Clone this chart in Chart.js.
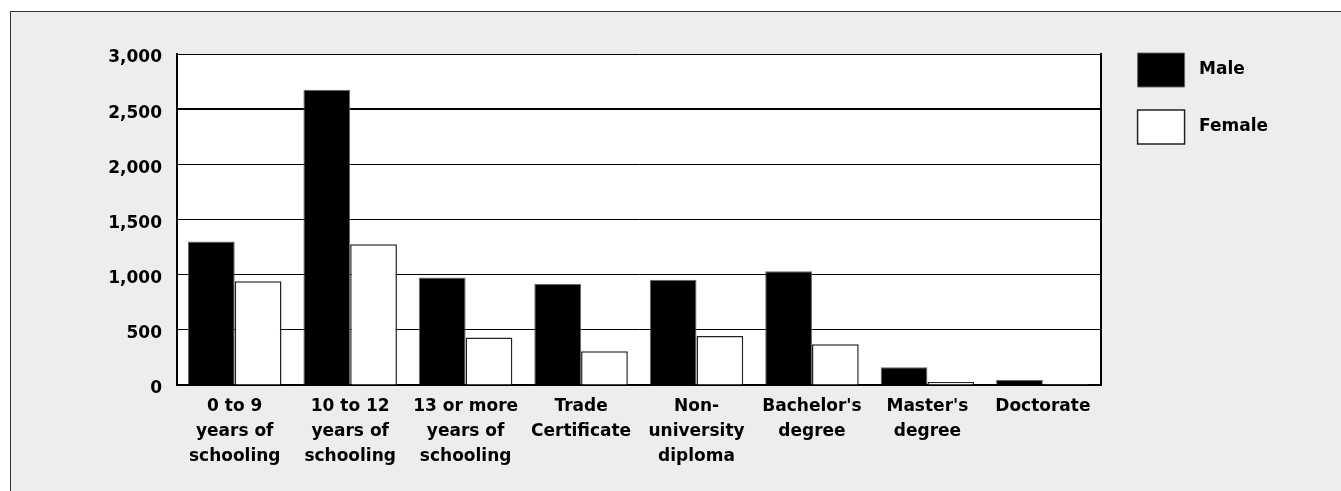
<!DOCTYPE html>
<html>
<head>
<meta charset="utf-8">
<script src="https://cdn.jsdelivr.net/npm/chart.js@4.4.1/dist/chart.umd.min.js"></script>
<style>
  html, body { margin: 0; padding: 0; background: #ffffff; }
  #frame {
    position: absolute; left: 10px; top: 11px; width: 1331px; height: 480px;
    background: #ededed; border-top: 1px solid #333; border-left: 1px solid #333;
  }
  #educationChart { position: absolute; left: 0; top: 0; }
</style>
</head>
<body>
<div id="frame"></div>
<canvas id="educationChart" width="1341" height="491"></canvas>
<script>
const categories = [
    ['0 to 9', 'years of', 'schooling'],
    ['10 to 12', 'years of', 'schooling'],
    ['13 or more', 'years of', 'schooling'],
    ['Trade', 'Certificate'],
    ['Non-', 'university', 'diploma'],
    ["Bachelor's", 'degree'],
    ["Master's", 'degree'],
    ['Doctorate']
];
const maleValues = [1300, 2675, 975, 915, 955, 1030, 160, 45];
const femaleValues = [940, 1275, 430, 305, 445, 370, 28, 8];
const yTicks = [0, 500, 1000, 1500, 2000, 2500, 3000];

const labelFont = { family: 'DejaVu Sans', size: 17, weight: 'bold', lineHeight: 1.47 };

// white plot background
const plotBackground = {
    id: 'plotBackground',
    beforeDraw(chart) {
        const { ctx, chartArea } = chart;
        ctx.save();
        ctx.fillStyle = '#ffffff';
        ctx.fillRect(chartArea.left, chartArea.top, chartArea.width, chartArea.height);
        ctx.restore();
    }
};

const ctx = document.getElementById('educationChart').getContext('2d');
const educationChart = new Chart(ctx, {
    type: 'bar',
    data: {
        labels: categories,
        datasets: [{
            label: 'Male',
            data: maleValues,
            backgroundColor: '#000000',
            borderColor: '#666666',
            borderWidth: 1
        }, {
            label: 'Female',
            data: femaleValues,
            backgroundColor: '#ffffff',
            borderColor: '#222222',
            borderWidth: 1.5
        }]
    },
    options: {
        responsive: false,
        animation: false,
        devicePixelRatio: 1,
        categoryPercentage: 0.81,
        barPercentage: 1,
        layout: { padding: { top: 30, left: 0, right: 63, bottom: 0 } },
        plugins: {
            tooltip: { enabled: false },
            legend: {
                position: 'right',
                align: 'start',
                labels: {
                    boxWidth: 47,
                    boxHeight: 34,
                    padding: 23,
                    color: '#000',
                    font: labelFont,
                    generateLabels: chart => Chart.defaults.plugins.legend.labels.generateLabels(chart)
                        .map(item => ({ ...item, text: ' ' + item.text }))
                }
            }
        },
        scales: {
            x: {
                grid: { display: false, drawTicks: false },
                border: { display: true, color: '#000', width: 2 },
                ticks: {
                    color: '#000',
                    font: labelFont,
                    padding: 9,
                    autoSkip: false,
                    maxRotation: 0
                },
                afterFit: s => { s.height = 106; }
            },
            xTop: {
                type: 'category',
                position: 'top',
                labels: categories,
                grid: { display: false, drawTicks: false },
                border: { display: false },
                ticks: { display: false },
                afterFit: s => { s.height = 24; }
            },
            y: {
                min: 0,
                max: 3000,
                afterBuildTicks: s => { s.ticks = yTicks.map(v => ({ value: v })); },
                grid: {
                    color: '#000',
                    drawTicks: false,
                    lineWidth: c => (c.tick && c.tick.value === 2500 ? 2 : 1)
                },
                border: { color: '#000', width: 2 },
                ticks: {
                    color: '#000',
                    font: labelFont,
                    padding: 15,
                    labelOffset: 4,
                    callback: v => v.toLocaleString('en-US')
                },
                afterFit: s => { s.width = 177; }
            },
            yRight: {
                position: 'right',
                min: 0,
                max: 3000,
                grid: { drawOnChartArea: false, drawTicks: false },
                border: { color: '#000', width: 2 },
                ticks: { display: false },
                afterFit: s => { s.width = 14; }
            }
        }
    },
    plugins: [plotBackground]
});
</script>
</body>
</html>
